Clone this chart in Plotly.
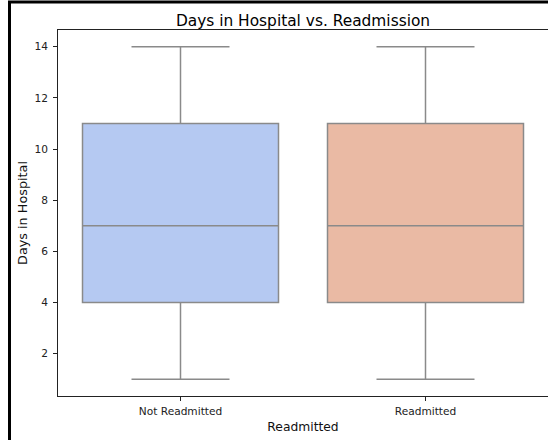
import plotly.graph_objects as go

# Summary statistics of days in hospital per readmission group
categories = ["Not Readmitted", "Readmitted"]
lower_whisker = [1, 1]
q1_values = [4, 4]
median_values = [7, 7]
q3_values = [11, 11]
upper_whisker = [14, 14]
y_ticks = [2, 4, 6, 8, 10, 12, 14]

fill_colors = ["#b5c9f2", "#eabaa4"]
edge_color = "#8a8a8a"
font_family = "DejaVu Sans"

fig = go.Figure()
for i, cat in enumerate(categories):
    fig.add_trace(go.Box(
        x=[cat],
        q1=[q1_values[i]],
        median=[median_values[i]],
        q3=[q3_values[i]],
        lowerfence=[lower_whisker[i]],
        upperfence=[upper_whisker[i]],
        width=0.8,
        whiskerwidth=0.5,
        fillcolor=fill_colors[i],
        line=dict(color=edge_color, width=1.5),
        boxpoints=False,
        showlegend=False,
        hoverinfo="skip",
    ))

fig.update_layout(
    width=548,
    height=440,
    margin=dict(l=58, r=0, t=30, b=44),
    paper_bgcolor="white",
    plot_bgcolor="white",
    font=dict(family=font_family, color="#1a1a1a"),
    title=dict(
        text="Days in Hospital vs. Readmission",
        x=0.5, xref="paper", xanchor="center",
        y=1, yref="paper", yanchor="bottom",
        pad=dict(b=4),
        font=dict(size=15.4, color="black"),
    ),
    boxmode="overlay",
)

fig.update_xaxes(
    type="category",
    categoryorder="array",
    categoryarray=categories,
    range=[-0.5, 1.5],
    showline=True, linecolor="#222222", linewidth=1, mirror=True,
    ticks="outside", ticklen=4, tickcolor="#222222",
    tickfont=dict(size=10.6, color="#222222"),
    ticklabelstandoff=1,
    showgrid=False, zeroline=False,
    title=dict(text="Readmitted", font=dict(size=12.3, color="#111111"), standoff=6),
)
fig.update_yaxes(
    range=[0.35, 14.65],
    tickvals=y_ticks,
    showline=True, linecolor="#222222", linewidth=1, mirror=True,
    ticks="outside", ticklen=4, tickcolor="#222222",
    tickfont=dict(size=10.6, color="#222222"),
    ticklabelstandoff=3,
    showgrid=False, zeroline=False,
    title=dict(text="Days in Hospital", font=dict(size=12.8, color="#111111"), standoff=3),
)

# Dark frame around the figure edge
fig.add_shape(
    type="rect", xref="paper", yref="paper",
    x0=(9.5 - 58) / 490, x1=1.2,
    y0=-0.3, y1=(396 - 2) / 366,
    line=dict(color="black", width=3),
    fillcolor="rgba(0,0,0,0)",
    layer="above",
)

fig.write_html("out.html")
